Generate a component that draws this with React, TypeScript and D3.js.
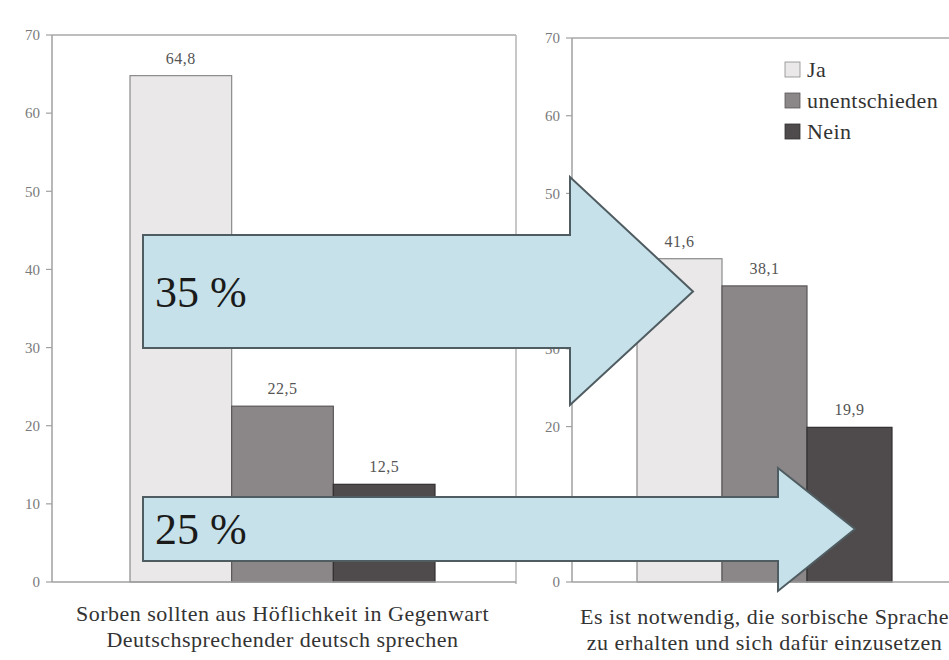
import React, { useEffect, useRef } from 'react';
import * as d3 from 'd3';

// answer categories (legend order)
const answers = ['Ja', 'unentschieden', 'Nein'];
const answerColors = ['#eae8e8', '#8b8687', '#4f4b4c'];
const answerStrokes = ['#8a8a8a', '#5a5657', '#333031'];

// the two survey statements
const questionLines = [
  ['Sorben sollten aus Höflichkeit in Gegenwart', 'Deutschsprechender deutsch sprechen'],
  ['Es ist notwendig, die sorbische Sprache', 'zu erhalten und sich dafür einzusetzen'],
];
const valuesLeft = [64.8, 22.5, 12.5];
const valuesRight = [41.6, 38.1, 19.9];

const yTicks = [0, 10, 20, 30, 40, 50, 60, 70];

// arrow annotations
const arrowLabels = ['35 %', '25 %'];

const fmt = (v: number) => String(v).replace('.', ',');

const App = () => {
  const ref = useRef<SVGSVGElement>(null);

  useEffect(() => {
    const svg = d3.select(ref.current);
    svg.selectAll('*').remove();

    const width = 949;
    const height = 660;
    svg.attr('width', width).attr('height', height);
    svg.append('rect').attr('width', width).attr('height', height).attr('fill', '#fff');

    const font = 'Liberation Serif, Tinos, DejaVu Serif, serif';

    const panels = [
      { axisX: 52, right: 516, y0: 582, y70: 35, bars: [130, 435], values: valuesLeft, labelX: 40, lines: questionLines[0], labelY: 621 },
      { axisX: 572, right: 956, y0: 582, y70: 38, bars: [637, 892], values: valuesRight, labelX: 560, lines: questionLines[1], labelY: 624 },
    ];

    panels.forEach((p, pi) => {
      const y = d3.scaleLinear().domain([0, 70]).range([p.y0, p.y70]);
      const x = d3.scaleBand<string>().domain(answers).range(p.bars as [number, number]).padding(0);
      const g = svg.append('g');

      // frame
      g.append('line').attr('x1', p.axisX).attr('x2', p.right).attr('y1', y(70)).attr('y2', y(70))
        .attr('stroke', '#a8a8a8').attr('stroke-width', 1.5);
      if (pi === 0) {
        g.append('line').attr('x1', p.right).attr('x2', p.right).attr('y1', y(70)).attr('y2', y(0) + 2)
          .attr('stroke', '#b5b5b5').attr('stroke-width', 1.5);
      }

      // bars
      g.selectAll('rect.bar')
        .data(p.values)
        .enter()
        .append('rect')
        .attr('class', 'bar')
        .attr('x', (d, i) => x(answers[i])!)
        .attr('y', d => y(d))
        .attr('width', x.bandwidth())
        .attr('height', d => y(0) - y(d))
        .attr('fill', (d, i) => answerColors[i])
        .attr('stroke', (d, i) => answerStrokes[i])
        .attr('stroke-width', 1.2);

      g.selectAll('text.val')
        .data(p.values)
        .enter()
        .append('text')
        .attr('class', 'val')
        .attr('x', (d, i) => x(answers[i])! + x.bandwidth() / 2)
        .attr('y', d => y(d) - 12)
        .attr('text-anchor', 'middle')
        .attr('font-family', font)
        .attr('font-size', 16)
        .attr('letter-spacing', 0.5)
        .attr('fill', '#555')
        .text(d => fmt(d));

      // y axis
      g.append('line').attr('x1', p.axisX).attr('x2', p.axisX).attr('y1', y(70)).attr('y2', y(0))
        .attr('stroke', '#a0a0a0').attr('stroke-width', 1.5);
      g.append('line').attr('x1', p.axisX).attr('x2', p.right).attr('y1', y(0)).attr('y2', y(0))
        .attr('stroke', '#a0a0a0').attr('stroke-width', 1.5);
      yTicks.forEach(t => {
        g.append('line').attr('x1', p.axisX - 6).attr('x2', p.axisX).attr('y1', y(t)).attr('y2', y(t))
          .attr('stroke', '#a0a0a0').attr('stroke-width', 1.2);
        g.append('text')
          .attr('x', p.labelX)
          .attr('y', y(t))
          .attr('dy', '0.35em')
          .attr('text-anchor', 'end')
          .attr('font-family', font)
          .attr('font-size', 15)
          .attr('fill', '#7a7a7a')
          .text(t);
      });

      // category label
      const cx = (p.bars[0] + p.bars[1]) / 2;
      p.lines.forEach((line, li) => {
        g.append('text')
          .attr('x', cx)
          .attr('y', p.labelY + li * 26)
          .attr('text-anchor', 'middle')
          .attr('font-family', font)
          .attr('font-size', 22)
          .attr('letter-spacing', 0.5)
          .attr('fill', '#333')
          .text(line);
      });
    });

    // legend
    const legend = svg.append('g').attr('transform', 'translate(785,62)');
    answers.forEach((a, i) => {
      legend.append('rect').attr('x', 0).attr('y', i * 31).attr('width', 15).attr('height', 15)
        .attr('fill', answerColors[i]).attr('stroke', answerStrokes[i]).attr('stroke-width', 0.8);
      legend.append('text').attr('x', 22).attr('y', i * 31 + 7.5).attr('dy', '0.35em')
        .attr('font-family', font).attr('font-size', 22).attr('letter-spacing', 0.4)
        .attr('fill', '#333').text(a);
    });

    // arrows
    const arrows = [
      { x0: 143, x1: 570, tip: 693, top: 235, bottom: 348, headTop: 177, headBottom: 405 },
      { x0: 143, x1: 778, tip: 855, top: 497, bottom: 561, headTop: 468, headBottom: 591 },
    ];
    arrows.forEach((a, i) => {
      const mid = (a.top + a.bottom) / 2;
      const path = d3.path();
      path.moveTo(a.x0, a.top);
      path.lineTo(a.x1, a.top);
      path.lineTo(a.x1, a.headTop);
      path.lineTo(a.tip, mid);
      path.lineTo(a.x1, a.headBottom);
      path.lineTo(a.x1, a.bottom);
      path.lineTo(a.x0, a.bottom);
      path.closePath();
      svg.append('path').attr('d', path.toString())
        .attr('fill', '#c6e1e9').attr('stroke', '#4f5c61').attr('stroke-width', 2);
      svg.append('text').attr('x', 155).attr('y', mid + 15)
        .attr('font-family', font).attr('font-size', 44).attr('fill', '#1a1a1a')
        .text(arrowLabels[i]);
    });
  }, []);

  return (
    <div style={{ position: 'absolute', left: 0, top: 0 }}>
      <svg ref={ref}></svg>
    </div>
  );
};

export default App;
